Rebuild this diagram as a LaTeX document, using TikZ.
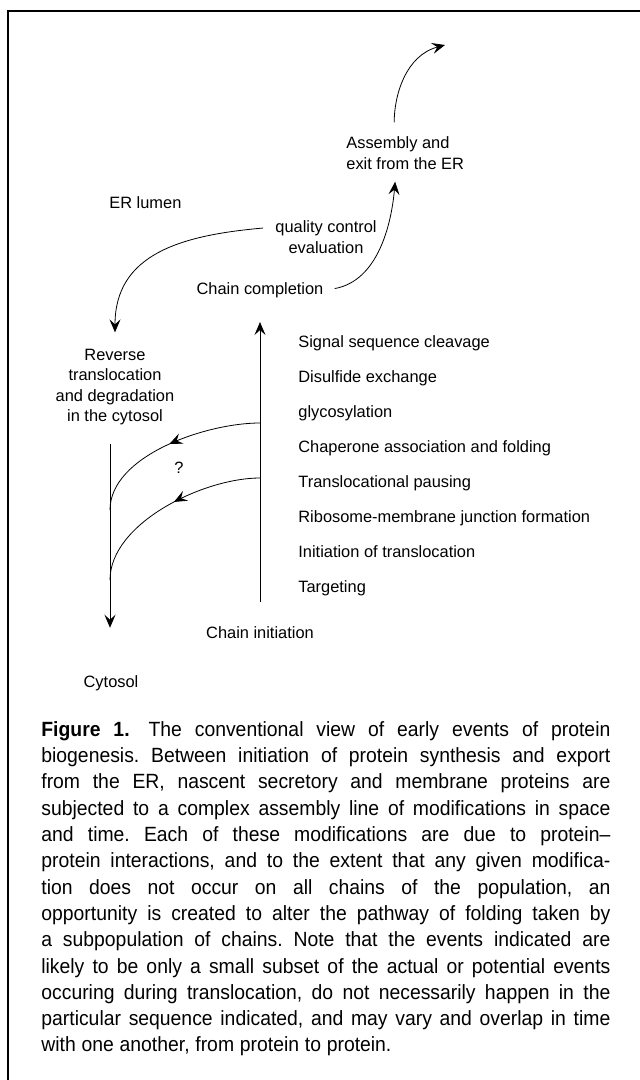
\documentclass[tikz,border=0pt]{standalone}
\usepackage{fontspec}
\setmainfont{Liberation Sans}
\newfontfamily\captionfont[FakeStretch=0.94]{Liberation Sans}
\usetikzlibrary{positioning,arrows.meta,decorations.markings}
\tikzset{
>={Stealth[length=6.5pt,width=5.5pt,inset=2.5pt]},
line width=0.8pt,
}

\begin{document}
\begin{tikzpicture}
    [x=0.5pt, y=-0.5pt,
    node distance=17.45pt,
    lbl/.style={font=\fontsize{8.2}{10.3}\selectfont, inner sep=0pt, align=center},
    legend/.style={font=\captionfont\fontsize{10.3}{13.15}\selectfont, inner sep=0pt,
        text width=284.5pt, align=justify},
    midarrow/.style={postaction={decorate},
        decoration={markings, mark=at position #1 with {\arrow{>}}}}
    ]

    \useasboundingbox (0,0) rectangle (639,1080);
    \draw[line width=1.1pt] (8,1090) -- (8,11) -- (650,11);

    \node [lbl, anchor=west, align=left] (assembly) at (346,153)
    {Assembly and\\exit from the ER};
    \node [lbl, anchor=west] (lumen) at (109,203) {ER lumen};
    \node [lbl] (quality) at (326,237) {quality control\\evaluation};
    \node [lbl] (completion) at (260,290.5) {Chain completion};
    \node [lbl] (reverse) at (115,387)
    {Reverse\\translocation\\and degradation\\in the cytosol};

    \node [lbl, anchor=base west] (cleavage) at (298,348) {Signal sequence cleavage};
    \node [lbl, below=of cleavage.base west, anchor=base west] (disulfide) {Disulfide exchange};
    \node [lbl, below=of disulfide.base west, anchor=base west] (glyco) {glycosylation};
    \node [lbl, below=of glyco.base west, anchor=base west] (chaperone) {Chaperone association and folding};
    \node [lbl, below=of chaperone.base west, anchor=base west] (pausing) {Translocational pausing};
    \node [lbl, below=of pausing.base west, anchor=base west] (junction) {Ribosome-membrane junction formation};
    \node [lbl, below=of junction.base west, anchor=base west] (inittrans) {Initiation of translocation};
    \node [lbl, below=of inittrans.base west, anchor=base west] (targeting) {Targeting};

    \node [lbl] (initiation) at (260,633) {Chain initiation};
    \node [lbl] (cytosol) at (111,683.6) {Cytosol};
    \node [lbl] (qmark) at (179,468) {?};

    \coordinate (exitend) at (445,45);
    \coordinate (branch1) at (260,423);
    \coordinate (branch2) at (260,478);
    \coordinate (join1) at (110,510);
    \coordinate (join2) at (110,580);

    \draw[->, shorten <=7pt] ([xshift=-5.5pt]assembly.north) to[out=90, in=195] (exitend);
    \draw[->, shorten <=5.5pt, shorten >=6pt] (completion.east) to[out=10, in=-95] ([xshift=-4.5pt]assembly.south);
    \draw[->, shorten <=6pt, shorten >=8pt] ([yshift=5pt]quality.west) to[out=185, in=90, looseness=1.2] (reverse.north);
    \draw[->, shorten <=12.4pt, shorten >=11.75pt] (initiation.north) -- (completion.south);
    \draw[->, shorten <=9.25pt, shorten >=23.9pt] (reverse.south -| join1) -- (cytosol.north -| join1);
    \draw[midarrow=0.5] (branch1) to[out=180, in=90, looseness=0.8] (join1);
    \draw[midarrow=0.46] (branch2) to[out=180, in=90, looseness=0.8] (join2);

    \node [legend, anchor=north west] (caption) at (41,721) {%
    \frenchspacing
    \spaceskip=.28em plus .5em minus .1em
    \tolerance=10000 \hyphenpenalty=10000
    \textbf{Figure 1.}\hspace{3pt} The conventional view of early events of protein\linebreak
    biogenesis. Between initiation of protein synthesis and export\linebreak
    from the ER, nascent secretory and membrane proteins are\linebreak
    subjected to a complex assembly line of modifications in space\linebreak
    and time. Each of these modifications are due to protein–\linebreak
    protein interactions, and to the extent that any given modifica-\linebreak
    tion does not occur on all chains of the population, an\linebreak
    opportunity is created to alter the pathway of folding taken by\linebreak
    a subpopulation of chains. Note that the events indicated are\linebreak
    likely to be only a small subset of the actual or potential events\linebreak
    occuring during translocation, do not necessarily happen in the\linebreak
    particular sequence indicated, and may vary and overlap in time\linebreak
    with one another, from protein to protein.};

\end{tikzpicture}
\end{document}
